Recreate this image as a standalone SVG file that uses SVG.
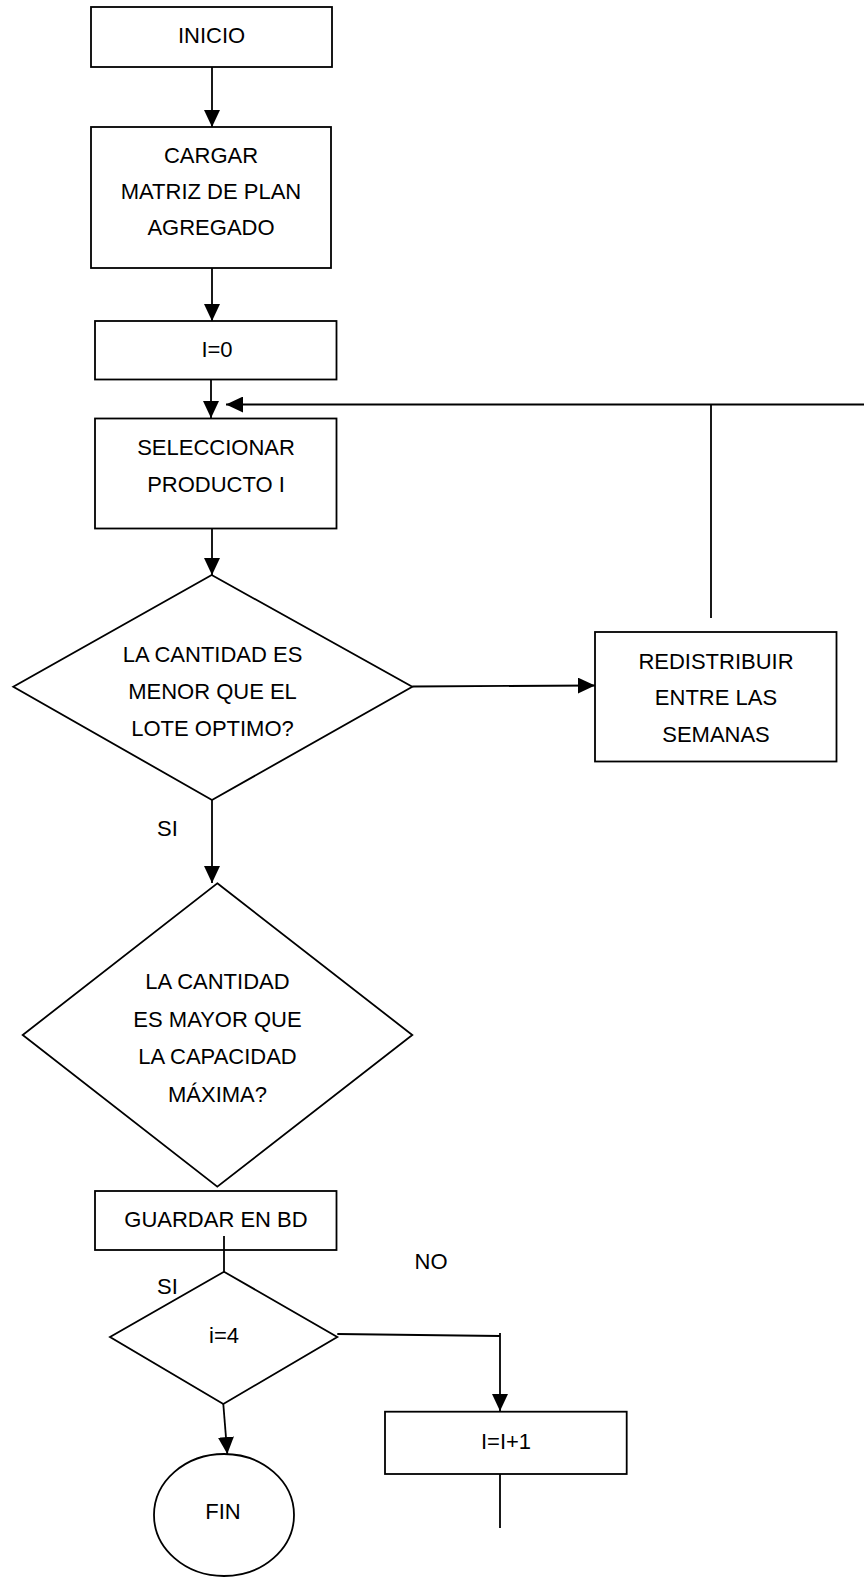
<svg xmlns="http://www.w3.org/2000/svg" width="864" height="1577" viewBox="0 0 864 1577">
<style>
.s{fill:#fff;stroke:#000;stroke-width:1.8}
.c{fill:none;stroke:#000;stroke-width:1.8}
text{font-family:"Liberation Sans",Arial,sans-serif;font-size:22px;fill:#000;text-anchor:middle}
</style>
<defs>
<marker id="ah" markerUnits="userSpaceOnUse" markerWidth="17" markerHeight="16" refX="17" refY="8" orient="auto">
<path d="M0,0 L17,8 L0,16 z" fill="#000"/>
</marker>
</defs>
<rect width="864" height="1577" fill="#fff"/>
<g id="inicio">
<rect class="s" x="91" y="7" width="241" height="60"/>
<text x="211.5" y="43">INICIO</text>
</g>
<g id="cargar">
<rect class="s" x="91" y="127" width="240" height="141"/>
<text x="211" y="163">CARGAR</text>
<text x="211" y="199">MATRIZ DE PLAN</text>
<text x="211" y="235">AGREGADO</text>
</g>
<g id="i0">
<rect class="s" x="95" y="321" width="241.5" height="58.5"/>
<text x="217" y="357">I=0</text>
</g>
<g id="seleccionar">
<rect class="s" x="95" y="418.5" width="241.5" height="110"/>
<text x="216" y="455">SELECCIONAR</text>
<text x="216" y="492">PRODUCTO I</text>
</g>
<g id="decision1">
<polygon class="s" points="211.7,575 412.3,686.7 212,800 13.3,686.7"/>
<text x="212.5" y="662">LA CANTIDAD ES</text>
<text x="212.5" y="698.5">MENOR QUE EL</text>
<text x="212.5" y="736">LOTE OPTIMO?</text>
</g>
<g id="redistribuir">
<rect class="s" x="595" y="632" width="241.5" height="129.5"/>
<text x="716" y="668.5">REDISTRIBUIR</text>
<text x="716" y="705">ENTRE LAS</text>
<text x="716" y="742">SEMANAS</text>
</g>
<g id="decision2">
<polygon class="s" points="217.3,883.3 412.3,1035 217.3,1186.7 22.7,1035"/>
<text x="217.5" y="988.5">LA CANTIDAD</text>
<text x="217.5" y="1027">ES MAYOR QUE</text>
<text x="217.5" y="1064">LA CAPACIDAD</text>
<text x="217.5" y="1102">MÁXIMA?</text>
</g>
<g id="guardar">
<rect class="s" x="95" y="1191" width="241.5" height="59"/>
<text x="216" y="1227">GUARDAR EN BD</text>
</g>
<g id="decision3">
<polygon class="s" points="224,1271.7 337.3,1337 223.3,1404 110,1337"/>
<text x="224" y="1343">i=4</text>
</g>
<g id="incremento">
<rect class="s" x="385" y="1411.7" width="241.7" height="62.3"/>
<text x="506" y="1448.5">I=I+1</text>
</g>
<g id="fin">
<ellipse class="s" cx="224" cy="1515" rx="70" ry="61"/>
<text x="223" y="1518.5">FIN</text>
</g>
<g id="connectors">
<line class="c" x1="212" y1="67" x2="212" y2="127" marker-end="url(#ah)"/>
<line class="c" x1="212" y1="268" x2="212" y2="321" marker-end="url(#ah)"/>
<line class="c" x1="211" y1="379.5" x2="211" y2="418" marker-end="url(#ah)"/>
<line class="c" x1="212" y1="528.5" x2="212" y2="575" marker-end="url(#ah)"/>
<line class="c" x1="412.3" y1="686.5" x2="595" y2="685.5" marker-end="url(#ah)"/>
<line class="c" x1="864" y1="404.5" x2="226" y2="404.5" marker-end="url(#ah)"/>
<line class="c" x1="711" y1="404.5" x2="711" y2="618"/>
<line class="c" x1="212" y1="800" x2="212" y2="883" marker-end="url(#ah)"/>
<line class="c" x1="224" y1="1236" x2="224" y2="1272"/>
<line class="c" x1="223.3" y1="1404" x2="227.3" y2="1454" marker-end="url(#ah)"/>
<polyline class="c" points="337.3,1334 500,1336"/>
<line class="c" x1="500" y1="1333" x2="500" y2="1411" marker-end="url(#ah)"/>
<line class="c" x1="500" y1="1474" x2="500" y2="1528"/>
</g>
<g id="labels">
<text x="167.5" y="836">SI</text>
<text x="167.5" y="1294">SI</text>
<text x="431" y="1268.5">NO</text>
</g>
</svg>
